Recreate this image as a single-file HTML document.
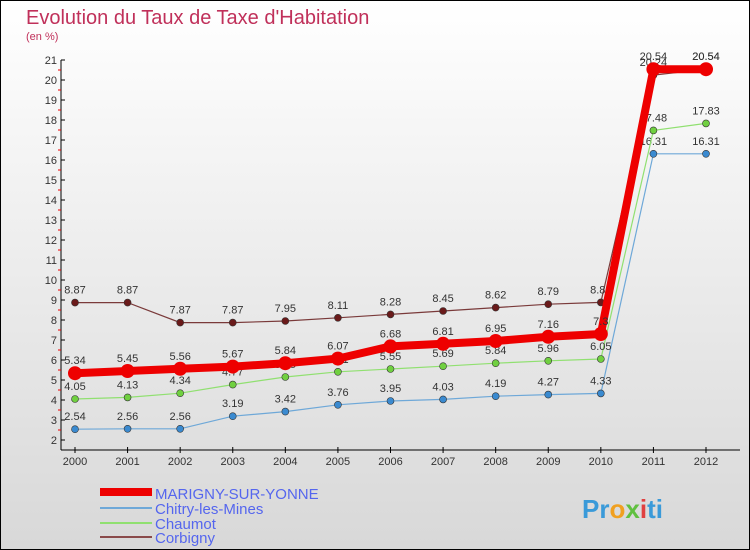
<!DOCTYPE html>
<html><head><meta charset="utf-8"><style>
body{margin:0}
#c{position:relative;width:750px;height:550px;box-sizing:border-box;border:1px solid #000;background:linear-gradient(#fff,#d8d8d8);font-family:"Liberation Sans",sans-serif;overflow:hidden}
</style></head><body>
<div id="c">
<svg id="s" width="750" height="550" style="position:absolute;left:-1px;top:-1px">
<text x="26" y="24" font-size="20" fill="#c0305a">Evolution du Taux de Taxe d'Habitation</text>
<text x="26" y="40" font-size="11" fill="#c0305a">(en %)</text>
<g id="ax"></g><g id="series"></g>
<g>
<line x1="100" y1="492" x2="152" y2="492" stroke="#e00" stroke-width="8"/>
<text x="155" y="499" font-size="15" fill="#5566ee">MARIGNY-SUR-YONNE</text>
<line x1="100" y1="508" x2="152" y2="508" stroke="#6ea8d8" stroke-width="2"/>
<text x="155" y="514" font-size="15" fill="#5566ee">Chitry-les-Mines</text>
<line x1="100" y1="523" x2="152" y2="523" stroke="#90e070" stroke-width="2"/>
<text x="155" y="529" font-size="15" fill="#5566ee">Chaumot</text>
<line x1="100" y1="537" x2="152" y2="537" stroke="#8a4a4a" stroke-width="2"/>
<text x="155" y="543" font-size="15" fill="#5566ee">Corbigny</text>
</g>
<text x="582" y="518" font-size="26" font-weight="bold" fill="#3a9ad9">Pr<tspan fill="#f0a020">o</tspan><tspan fill="#60c040">x</tspan><tspan fill="#e04040">i</tspan>ti</text>
</svg>
</div>
<script>
const years=[2000,2001,2002,2003,2004,2005,2006,2007,2008,2009,2010,2011,2012];
const marigny=[5.34,5.45,5.56,5.67,5.84,6.07,6.68,6.81,6.95,7.16,7.3,20.54,20.54];
const chitry=[2.54,2.56,2.56,3.19,3.42,3.76,3.95,4.03,4.19,4.27,4.33,16.31,16.31];
const chaumot=[4.05,4.13,4.34,4.77,5.15,5.41,5.55,5.69,5.84,5.96,6.05,17.48,17.83];
const corbigny=[8.87,8.87,7.87,7.87,7.95,8.11,8.28,8.45,8.62,8.79,8.88,20.24,20.54];
const yTicks=[2,3,4,5,6,7,8,9,10,11,12,13,14,15,16,17,18,19,20,21];
const NS="http://www.w3.org/2000/svg";
const X=i=>75+i*(706-75)/12, Y=v=>440-(v-2)*20;
function mk(t,a,p){const e=document.createElementNS(NS,t);for(const k in a)e.setAttribute(k,a[k]);p.appendChild(e);return e;}
const ax=document.getElementById('ax');
let e=mk('line',{x1:61,y1:60,x2:61,y2:450,stroke:'#000'},ax);


e=mk('line',{x1:61,y1:450,x2:740,y2:450,stroke:'#000'},ax);


yTicks.forEach(v=>{
 mk('line',{x1:61,y1:Y(v),x2:65,y2:Y(v),stroke:'#000'},ax);
 if(v<21)mk('line',{x1:58,y1:Y(v+0.5),x2:61,y2:Y(v+0.5),stroke:'#e00'},ax);
 const t=mk('text',{x:57,y:Y(v)+4,'font-size':11,fill:'#333','text-anchor':'end'},ax);t.textContent=v;
 
 
});
years.forEach((y,i)=>{
 mk('line',{x1:X(i),y1:447,x2:X(i),y2:453,stroke:'#000'},ax);
 const t=mk('text',{x:X(i),y:465,'font-size':11,fill:'#333','text-anchor':'middle'},ax);t.textContent=y;
 
 
});
const sg=document.getElementById('series');
function draw(data,name,col,dot,w,r){
 const g=mk('g',{},sg);
 
 
 const l=mk('polyline',{points:data.map((v,i)=>X(i)+','+Y(v)).join(' '),fill:'none',stroke:col,'stroke-width':w},g);
 
 
 data.forEach((v,i)=>{
  const c=mk('circle',{cx:X(i),cy:Y(v),r:r,fill:dot,stroke:'#333','stroke-width':r>5?0:0.6},g);
  
  
  const t=mk('text',{x:X(i),y:Y(v)-9,'font-size':11,fill:'#333','text-anchor':'middle'},g);t.textContent=v;
  
  
 });
}
draw(corbigny,'corbigny','#7a3a3a','#6a1a1a',1.2,3.5);
draw(chitry,'chitry','#6ea8d8','#3a8ad0',1.2,3.5);
draw(chaumot,'chaumot','#90e070','#70d040',1.2,3.5);
draw(marigny,'marigny','#ee0000','#ee0000',8,7);
</script>
</body></html>
